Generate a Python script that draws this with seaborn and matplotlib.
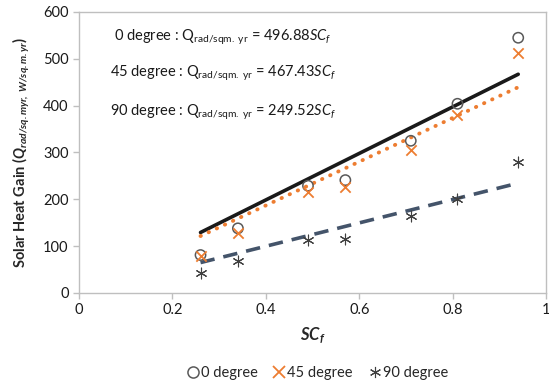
import pandas as pd
import seaborn as sns
import matplotlib.pyplot as plt
import numpy as np
from matplotlib.lines import Line2D

# Shading coefficient values and solar heat gain
scf = [0.26, 0.34, 0.49, 0.57, 0.71, 0.81, 0.94]
q_0 = [81, 138, 229, 241, 325, 404, 545]
q_45 = [78, 128, 215, 226, 305, 380, 513]
q_90 = [42, 68, 113, 116, 165, 200, 280]

# Trend line slopes (fit through origin)
slopes = {'0 degree': 496.88, '45 degree': 467.43, '90 degree': 249.52}

sns.set_style('white')
plt.rcParams['font.family'] = ['Lato', 'DejaVu Sans']
plt.rcParams['mathtext.fontset'] = 'custom'
plt.rcParams['mathtext.rm'] = 'Lato'
plt.rcParams['mathtext.it'] = 'Lato:italic'
plt.rcParams['mathtext.bf'] = 'Lato:bold'
plt.rcParams['mathtext.bfit'] = 'Lato:italic:bold'

df = pd.DataFrame({
    'SCf': scf * 3,
    'Q': q_0 + q_45 + q_90,
    'series': ['0 degree'] * 7 + ['45 degree'] * 7 + ['90 degree'] * 7,
})

# Trend lines from first to last SCf
trend = pd.DataFrame([
    {'SCf': x, 'Q': slopes[s] * x, 'series': s}
    for s in slopes for x in (scf[0], scf[-1])
])

fig = plt.figure(figsize=(5.49, 3.87), dpi=100)
ax = fig.add_axes([0.144, 0.243, 0.851, 0.726])

line_styles = {'0 degree': dict(color='#1a1a1a', lw=2.6, ls='-'),
               '45 degree': dict(color='#ED7D31', lw=2.8, ls=(0, (0.1, 2.2)), dash_capstyle='round'),
               '90 degree': dict(color='#44546A', lw=2.6, ls=(0, (4, 2.5)))}
for s, st in line_styles.items():
    sub = trend[trend['series'] == s]
    sns.lineplot(data=sub, x='SCf', y='Q', ax=ax, **st)

# markers
sns.scatterplot(data=df[df['series'] == '0 degree'], x='SCf', y='Q', ax=ax,
                marker='o', s=55, facecolor='none', edgecolor='#595959', linewidth=1.1, zorder=5)
sns.scatterplot(data=df[df['series'] == '45 degree'], x='SCf', y='Q', ax=ax,
                marker='x', s=55, color='#ED7D31', linewidth=1.3, zorder=5)
sns.scatterplot(data=df[df['series'] == '90 degree'], x='SCf', y='Q', ax=ax,
                marker=(6, 2, 0), s=60, color='#404040', linewidth=0.8, zorder=5)

ax.set_xlim(0, 1)
ax.set_ylim(0, 600)
ax.set_xticks([0, 0.2, 0.4, 0.6, 0.8, 1])
ax.set_xticklabels(['0', '0.2', '0.4', '0.6', '0.8', '1'])
ax.set_yticks(range(0, 601, 100))
ax.tick_params(labelsize=10.5, length=4, width=1, color='#bfbfbf', direction='out',
               bottom=True, left=True, labelcolor='#1a1a1a')
for sp in ax.spines.values():
    sp.set_color('#bfbfbf')
    sp.set_linewidth(1)

ax.set_xlabel(r'$\mathbfit{SC_f}$', fontsize=12, labelpad=6)
ax.set_ylabel(r'Solar Heat Gain ($\mathbfit{Q_{rad/sq.myr,\ W/sq.m.yr}}$)',
              fontsize=10.5, fontweight='bold', labelpad=8)

for i, (s, k) in enumerate(slopes.items()):
    ax.text(0.308, [545, 470, 385][i],
            s + r' : Q$_{\mathrm{rad/sqm.\ yr}}$ = ' + f'{k:.2f}' + r'$\mathit{SC_f}$',
            ha='center', va='center', fontsize=10.5, color='#1a1a1a')

handles = [
    Line2D([], [], ls='none', marker='o', mfc='none', mec='#595959', ms=8, mew=1.1),
    Line2D([], [], ls='none', marker='x', color='#ED7D31', ms=8, mew=1.3),
    Line2D([], [], ls='none', marker=(6, 2, 0), color='#404040', ms=8, mew=0.8),
]
fig.legend(handles, list(slopes), loc='center', bbox_to_anchor=(0.577, 0.035), ncol=3,
           frameon=False, fontsize=10.5, handletextpad=0.05, columnspacing=1.0,
           handlelength=1.0)

fig.savefig('out.png', dpi=100)
